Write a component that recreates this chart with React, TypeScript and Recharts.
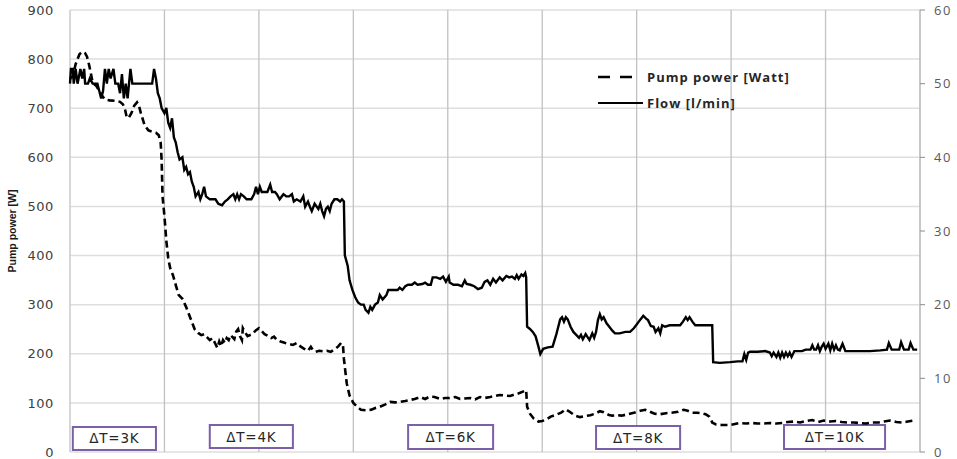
import React from 'react';
import { LineChart, Line, XAxis, YAxis, CartesianGrid, ReferenceArea, Legend } from 'recharts';

// Time axis (arbitrary sample units), nine equal divisions
const timeTicks = [0, 100, 200, 300, 400, 500, 600, 700, 800, 900];
const powerTicks = [0, 100, 200, 300, 400, 500, 600, 700, 800, 900];
const flowTicks = [0, 10, 20, 30, 40, 50, 60];

// Flow [l/min] (solid line, right axis)
const flowTime = [
  0, 1, 3, 4, 6, 8, 11, 13, 15, 16, 19, 21, 24, 29, 31, 33, 35, 37, 39, 41, 43, 46, 48, 51, 53, 55, 57, 59, 61, 64, 66, 68, 71, 87, 89, 91, 93, 95, 97,
  100, 102, 104, 106, 108, 110, 112, 114, 116, 119, 121, 123, 125, 127, 129, 131, 133, 136, 138, 140, 142, 144, 148, 154, 157, 161, 164, 167, 170,
  173, 175, 177, 179, 181, 184, 187, 192, 195, 197, 199, 201, 203, 205, 209, 212, 214, 217, 219, 222, 226, 229, 232, 235, 237, 240, 244, 247, 249,
  252, 254, 256, 259, 263, 265, 267, 269, 271, 273, 275, 277, 280, 283, 286, 288, 290, 291, 294, 296, 299, 302, 305, 308, 311, 313, 316, 318, 320,
  323, 326, 328, 331, 335, 337, 341, 347, 349, 352, 355, 358, 362, 365, 368, 373, 376, 379, 382, 384, 388, 392, 395, 398, 401, 402, 406, 411, 415,
  418, 420, 424, 428, 432, 436, 439, 442, 445, 448, 451, 455, 458, 462, 465, 468, 471, 473, 475, 478, 480, 482, 483, 484, 487, 490, 493, 496, 498,
  501, 506, 511, 515, 517, 519, 521, 523, 525, 527, 530, 533, 536, 539, 541, 543, 546, 550, 553, 555, 557, 559, 561, 563, 565, 568, 571, 574, 577,
  582, 588, 593, 597, 600, 604, 607, 610, 612, 615, 618, 620, 623, 625, 627, 630, 635, 641, 646, 649, 652, 654, 656, 659, 662, 667, 672, 680, 681,
  688, 699, 707, 712, 714, 716, 718, 720, 728, 736, 741, 743, 745, 748, 750, 752, 754, 756, 758, 760, 762, 764, 767, 770, 775, 779, 784, 786, 788,
  790, 792, 794, 796, 798, 800, 803, 805, 807, 809, 811, 813, 815, 818, 821, 826, 836, 847, 858, 865, 867, 870, 878, 880, 883, 888, 890, 893, 897,
];
const flowLpm = [
  50, 52, 52, 50, 52, 50, 52, 50.7, 52, 50, 50, 50.7, 50, 50, 49, 48, 49, 52, 50, 52, 50.7, 52, 50, 50, 48.7, 51.3, 48, 50, 48, 52, 50, 50, 50, 50, 52, 50.7, 48.7, 48, 46.7,
  46, 46.7, 44.7, 44, 45.3, 42.7, 42, 40.7, 39.7, 40, 38.3, 38.7, 37.7, 38, 36.7, 36, 34.7, 35.3, 34.3, 35, 36, 34.7, 34.3, 34.3, 33.7, 33.5, 34, 34.3, 34.7,
  35, 34.3, 35, 34.3, 35, 34.7, 34.3, 34.3, 35, 36, 35, 36, 35.3, 35.3, 35.3, 36.3, 35.3, 35.3, 35, 34.3, 35, 34.7, 34.7, 35, 34, 34.3, 34, 34.7, 33.3,
  34, 33.3, 32.7, 33.7, 33, 33.7, 32.7, 32, 33, 33.3, 32.7, 33.7, 34.3, 34.3, 34, 34.3, 34, 26.7, 25.3, 23.3, 22, 21, 20.3, 20, 20, 19.3, 18.9, 19.7, 19.3,
  20, 20.3, 21.3, 20.7, 21.3, 22, 22, 22, 22.3, 22, 22.5, 22.7, 22.7, 23, 22.7, 22.8, 23, 22.7, 22.7, 23.7, 23.7, 23.5, 23.8, 23.1, 23.8, 23, 22.7, 22.7, 22.5,
  23.3, 22.8, 22.7, 22.5, 22.1, 22.3, 23.1, 23.3, 22.7, 23.5, 23, 23.7, 23.3, 23.9, 23.7, 23.8, 23.5, 24, 23.5, 24.1, 23.9, 24.3, 23.7, 17, 16.7, 16.3, 15.7, 14.3, 13.3,
  14, 14.2, 14.3, 16, 17, 18, 18.3, 17.7, 18.3, 18, 17, 16.3, 15.9, 15.5, 15.9, 15.3, 16, 15.2, 16.1, 15.5, 16.3, 17.9, 18.7, 18, 18.3, 17.5, 17, 16.5, 16.1,
  16.1, 16.3, 16.3, 16.8, 17.3, 18, 18.5, 18.1, 17.9, 17.1, 17, 16.3, 16.8, 16.1, 17.2, 17, 17.2, 17.2, 17.2, 17.7, 18.3, 17.9, 18.3, 17.7, 17.2, 17.2, 17.2, 17.2, 12.2,
  12.1, 12.2, 12.3, 12.3, 13.3, 12.5, 13.5, 13.6, 13.6, 13.7, 13.5, 13, 13.5, 12.9, 13.5, 12.8, 13.5, 12.9, 13.5, 13, 13.5, 12.9, 13.7, 13.7, 13.7, 13.9, 13.9, 14.5, 13.9,
  13.9, 14.5, 13.7, 14.3, 14.7, 14, 14.7, 13.8, 14.7, 13.9, 14.5, 13.9, 13.8, 14.7, 13.7, 13.7, 13.7, 13.7, 13.8, 13.9, 14.8, 13.9, 13.9, 14.9, 13.9, 13.9, 14.8, 13.9, 13.9,
];

// Pump power [W] (dashed line, left axis)
const powerTime = [
  0, 3, 6, 10, 13, 16, 18, 20, 22, 24, 28, 31, 34, 37, 42, 48, 53, 56, 58, 60, 62, 65, 68, 71, 73, 75, 77, 79, 83, 87, 91, 94, 96, 97, 98,
  100, 102, 104, 106, 109, 112, 115, 119, 123, 126, 129, 132, 136, 139, 142, 145, 148, 151, 154, 156, 158, 160, 162, 164, 166, 168, 170, 174, 176, 178,
  180, 182, 183, 185, 188, 193, 197, 200, 203, 206, 210, 213, 216, 219, 223, 228, 232, 236, 240, 244, 248, 252, 255, 257, 260, 264, 268, 272, 276,
  281, 284, 287, 289, 290, 293, 296, 300, 304, 308, 313, 319, 324, 328, 334, 339, 344, 349, 355, 360, 365, 371, 376, 381, 386, 392, 397, 402, 408,
  413, 418, 424, 429, 434, 439, 445, 450, 455, 461, 466, 471, 476, 481, 483, 484, 487, 491, 496, 500, 504, 509, 515, 520, 525, 529, 535, 540, 545,
  551, 556, 561, 565, 570, 574, 579, 584, 591, 597, 604, 609, 614, 619, 625, 631, 637, 644, 650, 654, 659, 664, 669, 673, 677, 679, 680, 684, 690,
  699, 704, 709, 716, 722, 728, 735, 741, 748, 754, 760, 767, 773, 779, 786, 792, 798, 805, 811, 817, 824, 830, 836, 843, 849, 856, 862, 868, 875,
  881, 887, 893,
];
const powerWatt = [
  760, 765, 790, 810, 815, 812, 805, 790, 772, 752, 745, 735, 725, 718, 716, 715, 713, 708, 700, 682, 680, 690, 705, 712, 705, 690, 678, 665, 655, 652, 650, 645, 630, 595, 520,
  480, 430, 395, 375, 360, 340, 320, 312, 295, 280, 265, 250, 242, 238, 240, 234, 228, 232, 220, 212, 225, 215, 228, 222, 232, 228, 238, 230, 245, 250,
  236, 228, 252, 245, 236, 240, 248, 252, 246, 240, 236, 232, 235, 228, 225, 222, 220, 218, 222, 215, 210, 206, 214, 208, 204, 206, 205, 206, 204,
  210, 215, 222, 218, 190, 140, 115, 100, 92, 86, 85, 86, 90, 92, 97, 102, 101, 102, 104, 106, 108, 112, 108, 113, 112, 108, 110, 110, 112,
  108, 109, 110, 107, 112, 110, 112, 114, 116, 115, 114, 117, 120, 124, 126, 92, 78, 68, 62, 63, 66, 72, 76, 80, 87, 82, 74, 71, 73,
  75, 78, 83, 81, 76, 74, 75, 74, 77, 80, 84, 86, 82, 78, 77, 79, 80, 82, 86, 84, 80, 80, 79, 77, 72, 65, 60, 56, 55,
  55, 57, 59, 58, 59, 58, 58, 59, 58, 59, 61, 62, 60, 63, 65, 61, 64, 62, 63, 61, 60, 60, 59, 58, 60, 60, 62, 64, 61,
  60, 62, 64,
];

const phaseLabels = ['ΔT=3K', 'ΔT=4K', 'ΔT=6K', 'ΔT=8K', 'ΔT=10K'];
const seriesNames = ['Pump power [Watt]', 'Flow [l/min]'];
const axisTitle = 'Pump power [W]';

const flowData = flowTime.map((t, i) => ({ t, v: flowLpm[i] }));
const powerData = powerTime.map((t, i) => ({ t, v: powerWatt[i] }));

// Annotation boxes along the bottom of the plot, in axis units (time, W)
const phaseBoxes = [
  { x1: 3, x2: 91, y1: 4, y2: 51 },
  { x1: 148, x2: 236, y1: 8, y2: 55 },
  { x1: 358, x2: 448, y1: 6, y2: 55 },
  { x1: 557, x2: 646, y1: 6, y2: 53 },
  { x1: 756, x2: 863, y1: 6, y2: 55 },
];

const tickFont = "'DejaVu Sans', sans-serif";
const legendFont = "'Open Sans', sans-serif";

const PhaseTag = (props: any) => {
  const { viewBox, value } = props;
  if (!viewBox) return null;
  const { x, y, width, height } = viewBox;
  return (
    <text
      x={x + width / 2}
      y={y + height / 2}
      textAnchor="middle"
      dominantBaseline="central"
      fontFamily={tickFont}
      fontSize={13.5}
      letterSpacing={0.8}
      fill="#262626"
    >
      {value}
    </text>
  );
};

const AxisTitle = (props: any) => {
  const { viewBox } = props;
  if (!viewBox) return null;
  const cx = viewBox.x + 16;
  const cy = viewBox.y + viewBox.height / 2;
  return (
    <text
      x={cx}
      y={cy}
      transform={`rotate(-90 ${cx} ${cy})`}
      textAnchor="middle"
      fontFamily="'Liberation Sans Narrow', 'Liberation Sans', sans-serif"
      fontWeight={600}
      fontSize={10.5}
      fill="#1a1a1a"
    >
      {axisTitle}
    </text>
  );
};

const LegendBox = () => (
  <svg width={240} height={46} style={{ display: 'block' }}>
    <line x1={0} y1={9} x2={34} y2={9} stroke="#000" strokeWidth={2.5} strokeDasharray="12 10" />
    <text x={49} y={13.5} fontFamily={legendFont} fontWeight={700} fontSize={13} letterSpacing={1} fill="#262626">
      {seriesNames[0]}
    </text>
    <line x1={0} y1={35} x2={45} y2={35} stroke="#000" strokeWidth={2} />
    <text x={49} y={39.5} fontFamily={legendFont} fontWeight={700} fontSize={13} letterSpacing={1} fill="#262626">
      {seriesNames[1]}
    </text>
  </svg>
);

export default function App() {
  return (
    <div style={{ position: 'fixed', left: 0, top: 0, width: 957, height: 459, overflow: 'hidden', background: '#fff' }}>
      <LineChart width={957} height={459} margin={{ top: 10, right: 0, bottom: 7, left: 0 }}>
        <CartesianGrid yAxisId="power" vertical={false} stroke="#dedede" strokeWidth={1.5} />
        <CartesianGrid yAxisId="power" horizontal={false} stroke="#c2c2c2" strokeWidth={1.3} />
        <XAxis type="number" dataKey="t" domain={[0, 900]} ticks={timeTicks} hide allowDuplicatedCategory={false} />
        <YAxis
          yAxisId="power"
          orientation="left"
          width={70}
          domain={[0, 900]}
          ticks={powerTicks}
          interval={0}
          axisLine={false}
          tickLine={false}
          tickMargin={10}
          tick={{ fontFamily: tickFont, fontSize: 13, fill: '#404040', letterSpacing: 0.6 }}
          label={<AxisTitle />}
        />
        <YAxis
          yAxisId="flow"
          orientation="right"
          width={37}
          domain={[0, 60]}
          ticks={flowTicks}
          interval={0}
          axisLine={{ stroke: '#bfbfbf', strokeWidth: 1.3 }}
          tickLine={{ stroke: '#8c8c8c' }}
          tickSize={5}
          tickMargin={9}
          tick={{ fontFamily: legendFont, fontSize: 13, fill: '#595959', letterSpacing: 1.5 }}
        />
        {phaseBoxes.map((b, i) => (
          <ReferenceArea
            key={phaseLabels[i]}
            yAxisId="power"
            x1={b.x1}
            x2={b.x2}
            y1={b.y1}
            y2={b.y2}
            fill="#ffffff"
            fillOpacity={1}
            stroke="#7b5fa8"
            strokeWidth={2}
            label={<PhaseTag value={phaseLabels[i]} />}
          />
        ))}
        <Line
          yAxisId="power"
          data={powerData}
          dataKey="v"
          name={seriesNames[0]}
          type="linear"
          stroke="#000"
          strokeWidth={2.6}
          strokeDasharray="7 4"
          dot={false}
          isAnimationActive={false}
        />
        <Line
          yAxisId="flow"
          data={flowData}
          dataKey="v"
          name={seriesNames[1]}
          type="linear"
          stroke="#000"
          strokeWidth={2.4}
          dot={false}
          isAnimationActive={false}
        />
        <Legend
          layout="vertical"
          align="center"
          verticalAlign="middle"
          content={<LegendBox />}
          wrapperStyle={{ position: 'absolute', left: 598, top: 68, width: 240, height: 46 }}
        />
      </LineChart>
    </div>
  );
}
